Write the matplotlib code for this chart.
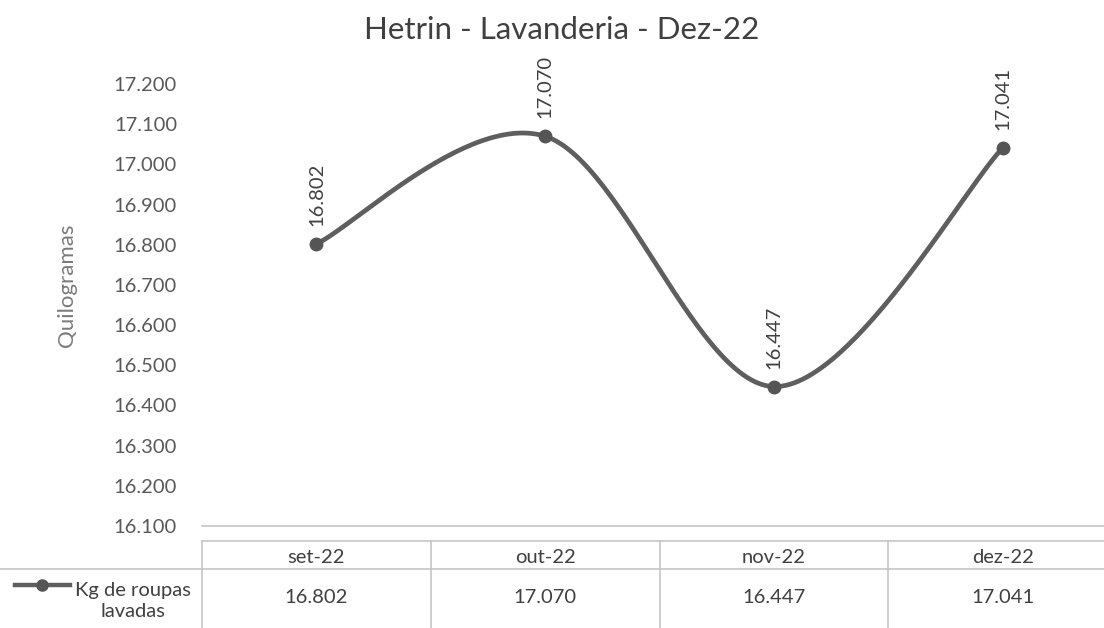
import numpy as np
import matplotlib
matplotlib.use("Agg")
import matplotlib.pyplot as plt
from matplotlib.lines import Line2D
from matplotlib.transforms import blended_transform_factory

plt.rcParams["font.family"] = ["Lato", "DejaVu Sans"]

MESES = ["set-22", "out-22", "nov-22", "dez-22"]
KG = [16802, 17070, 16447, 17041]
Y_TICKS = list(range(16100, 17201, 100))
SERIE = "Kg de roupas\nlavadas"
TITULO = "Hetrin - Lavanderia - Dez-22"

COR_LINHA = "#5e5e5e"
COR_TXT = "#404040"
COR_GRADE = "#c6c6c6"


def fmt(v):
    return f"{v:,.0f}".replace(",", ".")


def suaviza(x, y, n=60):
    # curva suavizada estilo Excel (Bezier cubica com tangentes Catmull-Rom)
    p = np.column_stack([x, y]).astype(float)
    ext = np.vstack([p[0], p, p[-1]])
    xs, ys = [], []
    t = np.linspace(0, 1, n)
    for i in range(len(p) - 1):
        p0, p1, p2, p3 = ext[i], ext[i + 1], ext[i + 2], ext[i + 3]
        c1 = p1 + (p2 - p0) / 6
        c2 = p2 - (p3 - p1) / 6
        b = ((1 - t) ** 3)[:, None] * p1 + (3 * (1 - t) ** 2 * t)[:, None] * c1 \
            + (3 * (1 - t) * t ** 2)[:, None] * c2 + (t ** 3)[:, None] * p2
        xs.append(b[:, 0]); ys.append(b[:, 1])
    return np.concatenate(xs), np.concatenate(ys)


fig = plt.figure(figsize=(11.04, 6.28), dpi=100)
ax = fig.add_axes([0.183, 0.1624, 0.8288, 0.7038])

xi = np.arange(len(MESES))
sx, sy = suaviza(xi, KG)
ax.plot(sx, sy, color=COR_LINHA, lw=3.4, solid_capstyle="round", zorder=3)
ax.plot(xi, KG, "o", color="#555555", ms=9, zorder=4)

for i, v in zip(xi, KG):
    ax.annotate(fmt(v), (i, v), xytext=(0, 13), textcoords="offset points",
                rotation=90, ha="center", va="bottom", fontsize=14.5,
                color=COR_TXT, annotation_clip=False)

ax.set_xlim(-0.5, len(MESES) - 0.5)
ax.set_ylim(Y_TICKS[0], Y_TICKS[-1])
ax.set_yticks(Y_TICKS)
ax.set_yticklabels([fmt(v) for v in Y_TICKS], fontsize=14.5, color="#595959")
ax.set_xticks([])
ax.tick_params(axis="y", length=0, pad=18)
for s in ["top", "right", "left"]:
    ax.spines[s].set_visible(False)
ax.spines["bottom"].set_color(COR_GRADE)
ax.spines["bottom"].set_linewidth(1.2)

fig.text(0.509, 0.952, TITULO, ha="center", va="center", fontsize=22.5, color=COR_TXT)
fig.text(0.061, 0.545, "Quilogramas", rotation=90, ha="center", va="center",
         fontsize=16, color="#7a7a7a")

# tabela de dados abaixo do grafico
tr = blended_transform_factory(ax.transData, fig.transFigure)
y_topo, y_meio = 0.1385, 0.094
fig.add_artist(Line2D([-0.5, len(MESES) - 0.5], [y_topo, y_topo], transform=tr,
                      color=COR_GRADE, lw=1.2))
fig.add_artist(Line2D([0, 1], [y_meio, y_meio], transform=fig.transFigure,
                      color=COR_GRADE, lw=1.2))
for b in np.arange(len(MESES)) - 0.5:
    fig.add_artist(Line2D([b, b], [0, y_topo], transform=tr, color=COR_GRADE, lw=1.2))

for i, (m, v) in enumerate(zip(MESES, KG)):
    fig.text(i, 0.113, m, transform=tr, ha="center", va="center", fontsize=14.5, color=COR_TXT)
    fig.text(i, 0.049, fmt(v), transform=tr, ha="center", va="center", fontsize=14.5, color=COR_TXT)

# chave da legenda + nome da serie
fig.add_artist(Line2D([0.0136, 0.0634], [0.0685, 0.0685], transform=fig.transFigure,
                      color=COR_LINHA, lw=3.2))
fig.add_artist(Line2D([0.038], [0.0685], transform=fig.transFigure, marker="o",
                      color="#555555", ms=8))
fig.text(0.1205, 0.043, SERIE, ha="center", va="center", fontsize=14.5,
         color=COR_TXT, linespacing=1.35)

fig.savefig("out.png", dpi=100)
